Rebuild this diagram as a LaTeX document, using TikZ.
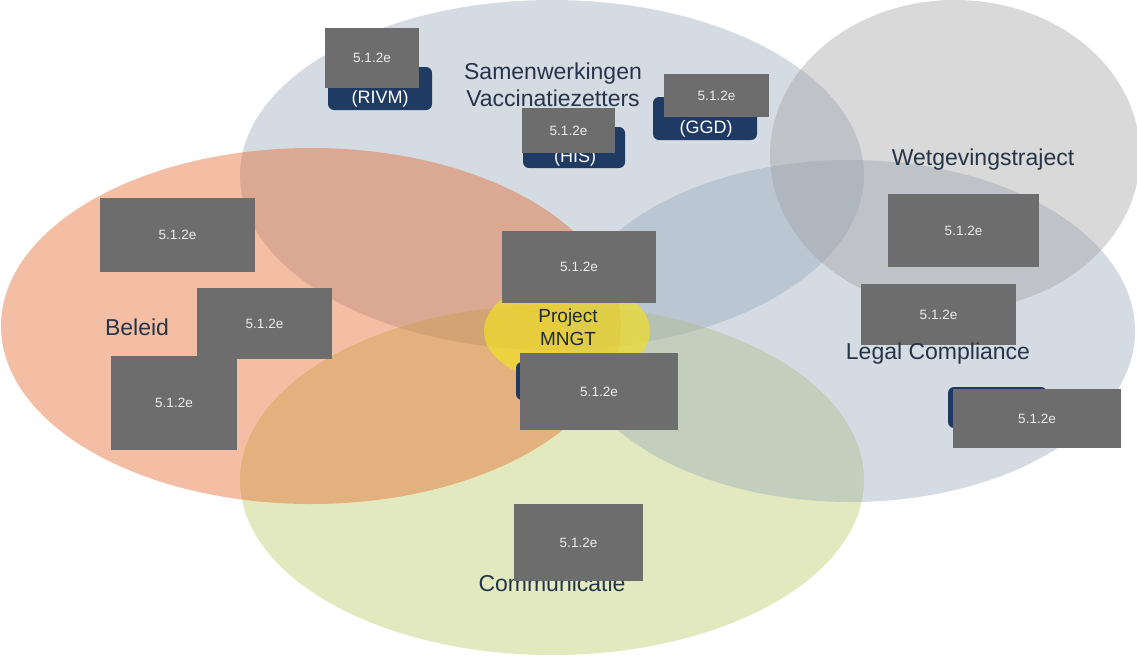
\documentclass[tikz,border=0pt]{standalone}
\usepackage{fontspec}
\setmainfont{Liberation Sans}
\definecolor{cblue}{HTML}{96A7BB}
\definecolor{corange}{HTML}{E45D1C}
\definecolor{cgreen}{HTML}{B9C861}
\definecolor{cgrey}{HTML}{A0A0A0}
\definecolor{cyellow}{HTML}{F0DE2A}
\definecolor{boxgrey}{HTML}{6D6D6D}
\definecolor{boxtext}{HTML}{EDEDED}
\definecolor{navy}{HTML}{1F3A63}
\definecolor{labtext}{HTML}{253447}
\tikzset{
  blob/.style={fill opacity=0.4},
  gbox/.style={rectangle, fill=boxgrey, text=boxtext, inner sep=0pt, font=\fontsize{13.5}{15}\selectfont},
  nbox/.style={rectangle, rounded corners=6pt, fill=navy, inner sep=0pt},
  ntext/.style={text=white, inner sep=0pt, font=\fontsize{18}{20}\selectfont},
  lab/.style={text=labtext, inner sep=0pt, align=center, font=\fontsize{23}{27}\selectfont},
  plab/.style={text=labtext!80!black, inner sep=0pt, align=center, font=\fontsize{19}{23}\selectfont}
}
\begin{document}
\begin{tikzpicture}[x=1pt,y=-1pt]
\useasboundingbox (0,0) rectangle (1137,657);
\fill[white] (0,0) rectangle (1137,657);
\fill[cblue, blob] (552,175) ellipse [x radius=312, y radius=175];
\fill[cgreen, blob] (552,480) ellipse [x radius=312, y radius=175];
\fill[corange, blob] (311,326) ellipse [x radius=310, y radius=178];
\fill[cblue, blob] (850,331) ellipse [x radius=285, y radius=171];
\fill[cgrey, blob] (955,155) ellipse [x radius=185, y radius=155];
\fill[cyellow, fill opacity=0.72] (567,331) ellipse [x radius=83, y radius=51];

% navy boxes (behind)
\node[nbox, minimum width=104, minimum height=43] (bRIVM) at (380,88.5) {};
\node[ntext] (tRIVM) at (380,99) {(RIVM)};
\node[nbox, minimum width=102, minimum height=41] (bHIS) at (574,147.5) {};
\node[ntext] (tHIS) at (575,158) {(HIS)};
\node[nbox, minimum width=104, minimum height=43] (bGGD) at (705,118.5) {};
\node[ntext] (tGGD) at (706,129) {(GGD)};
\node[nbox, minimum width=84, minimum height=38] (bC) at (558,381) {};
\node[nbox, minimum width=99, minimum height=41] (bBR) at (997.5,407.5) {};

% labels
\node[lab] (lSam) at (553,85) {Samenwerkingen\\Vaccinatiezetters};
\node[lab] (lWet) at (983,160) {Wetgevingstraject};
\node[lab] (lBel) at (137,327) {Beleid};
\node[lab] (lCom) at (552,583) {Communicatie};
\node[plab] (lPro) at (568,327) {Project\\MNGT};

% grey boxes
\node[gbox, minimum width=94, minimum height=60] (g1) at (372,58) {5.1.2e};
\node[gbox, minimum width=93, minimum height=45] (g2) at (568.5,130.5) {5.1.2e};
\node[gbox, minimum width=105, minimum height=43] (g3) at (716.5,95.5) {5.1.2e};
\node[gbox, minimum width=155, minimum height=74] (g4) at (177.5,235) {5.1.2e};
\node[gbox, minimum width=135, minimum height=71] (g5) at (264.5,323.5) {5.1.2e};
\node[gbox, minimum width=126, minimum height=94] (g6) at (174,403) {5.1.2e};
\node[gbox, minimum width=154, minimum height=72] (g7) at (579,267) {5.1.2e};
\node[gbox, minimum width=158, minimum height=77] (g8) at (599,391.5) {5.1.2e};
\node[gbox, minimum width=151, minimum height=73] (g9) at (963.5,230.5) {5.1.2e};
\node[gbox, minimum width=155, minimum height=61] (g10) at (938.5,314.5) {5.1.2e};
\node[gbox, minimum width=168, minimum height=59] (g11) at (1037,418.5) {5.1.2e};
\node[gbox, minimum width=129, minimum height=77] (g12) at (578.5,542.5) {5.1.2e};

\node[lab] (lLeg) at (938,354) {Legal Compliance};
\end{tikzpicture}
\end{document}
